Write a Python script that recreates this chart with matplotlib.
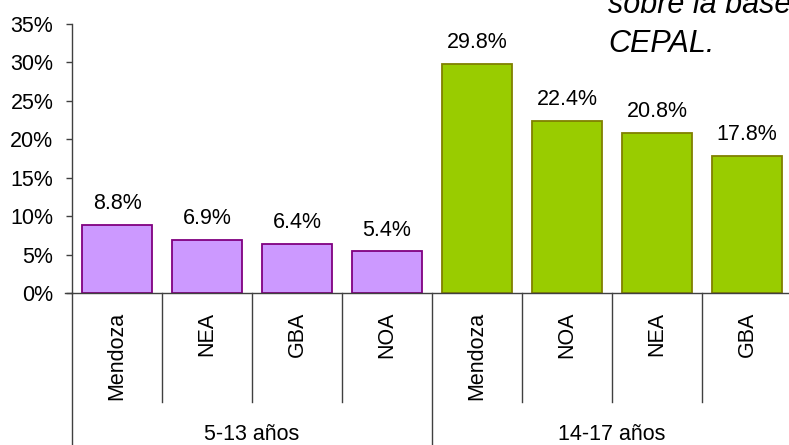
import matplotlib
matplotlib.use("Agg")
import matplotlib.pyplot as plt
from matplotlib.transforms import blended_transform_factory

plt.rcParams['font.family'] = ['Liberation Sans', 'DejaVu Sans']

groups = ['5-13 años', '14-17 años']
cats_young = ['Mendoza', 'NEA', 'GBA', 'NOA']
vals_young = [8.8, 6.9, 6.4, 5.4]
cats_teen = ['Mendoza', 'NOA', 'NEA', 'GBA']
vals_teen = [29.8, 22.4, 20.8, 17.8]
yticks = [0, 5, 10, 15, 20, 25, 30, 35]

W, H = 789, 445
fig = plt.figure(figsize=(W / 100, H / 100), dpi=100)
ax = fig.add_axes([72 / W, (H - 293) / H, (792 - 72) / W, (293 - 24) / H])

n1 = len(cats_young)
x_young = list(range(n1))
x_teen = [n1 + i for i in range(len(cats_teen))]
bw = 0.77
ax.bar(x_young, vals_young, width=bw, color='#CC99FF', edgecolor='#800080', linewidth=1.3)
ax.bar(x_teen, vals_teen, width=bw, color='#99CC00', edgecolor='#808000', linewidth=1.3)

fs = 15.5
for x, v in zip(x_young + x_teen, vals_young + vals_teen):
    ax.annotate(f'{v:.1f}%', (x, v), xytext=(0, 11.5), textcoords='offset points',
                ha='center', va='baseline', fontsize=fs, color='black')

ntot = n1 + len(cats_teen)
ax.set_xlim(-0.5, ntot - 0.5)
ax.set_ylim(0, 35)
ax.set_yticks(yticks)
ax.set_yticklabels([f'{t}%' for t in yticks], fontsize=fs)
ax.tick_params(axis='y', direction='out', length=4.5, width=1, color='#404040', pad=9)
ax.set_xticks([])
for s in ['top', 'right']:
    ax.spines[s].set_visible(False)
for s in ['left', 'bottom']:
    ax.spines[s].set_color('#404040')
    ax.spines[s].set_linewidth(1)

tr = blended_transform_factory(ax.transData, ax.transAxes)
lc = '#404040'
# x axis small extension to the left
ax.plot([-7 / 720, 0], [0, 0], transform=ax.transAxes, color=lc, lw=1, clip_on=False)
# separators
for i in range(ntot + 1):
    xb = i - 0.5
    if i == 0 or i == n1 or i == ntot:
        y0 = -0.6
    else:
        y0 = -109 / 269
    ax.plot([xb, xb], [0, y0], transform=tr, color=lc, lw=1, clip_on=False)

for x, c in zip(x_young + x_teen, cats_young + cats_teen):
    ax.text(x, -19 / 269, c, transform=tr, rotation=90, ha='center', va='top', fontsize=fs)

centers = [(n1 - 1) / 2, n1 + (len(cats_teen) - 1) / 2]
for cx, g in zip(centers, groups):
    ax.text(cx, -147 / 269, g, transform=tr, ha='center', va='baseline', fontsize=fs)

fig.text(608 / W, (H - 13) / H, 'sobre la base', fontsize=22, style='italic', ha='left', va='baseline')
fig.text(608 / W, (H - 52) / H, 'CEPAL.', fontsize=22, style='italic', ha='left', va='baseline')

fig.savefig('out.png', dpi=100)
